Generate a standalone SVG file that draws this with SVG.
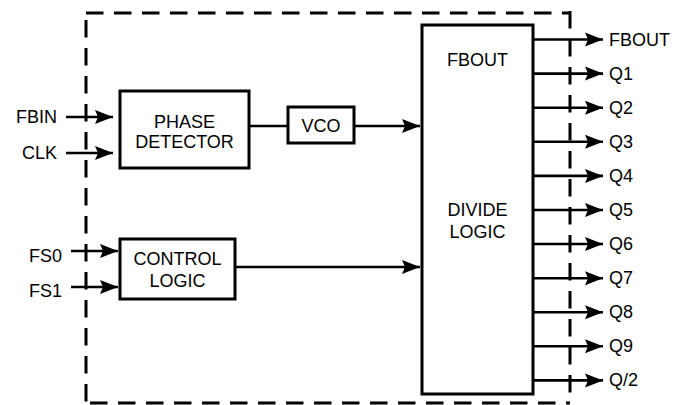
<svg xmlns="http://www.w3.org/2000/svg" width="688" height="405" viewBox="0 0 688 405">
<style>
text{font-family:"Liberation Sans",Arial,sans-serif;font-size:18px;fill:#000}
.box{fill:#fff;stroke:#000;stroke-width:3}
.w{stroke:#000;stroke-width:2.6;fill:none}
.a{marker-end:url(#ah)}
.mid{text-anchor:middle}
.end{text-anchor:end}
.border{fill:none;stroke:#000;stroke-width:3;stroke-dasharray:17.5 10.5}
</style>
<defs>
<marker id="ah" markerUnits="userSpaceOnUse" markerWidth="20" markerHeight="16" refX="18" refY="7" orient="auto" viewBox="0 0 20 14">
<path d="M0,0 L18,7 L0,14 L3,7 z" fill="#000"/>
</marker>
</defs>
<g id="border">
<path class="border" d="M86,13 H570"/>
<path class="border" d="M570,11 V403"/>
<path class="border" d="M86,20 V403"/>
<path class="border" d="M86,403 H570" style="stroke-dashoffset:-4"/>
</g>
<g id="connectors">
<line class="w a" x1="66" y1="117" x2="113" y2="117"/>
<line class="w a" x1="66" y1="153" x2="113" y2="153"/>
<line class="w a" x1="71" y1="251" x2="118" y2="251"/>
<line class="w a" x1="71" y1="287" x2="118" y2="287"/>
<line class="w" x1="249" y1="126" x2="288" y2="126"/>
<line class="w a" x1="354" y1="126" x2="420" y2="126"/>
<line class="w a" x1="235" y1="267" x2="420" y2="267"/>
<line class="w a" x1="533" y1="39.5" x2="603" y2="39.5"/>
<line class="w a" x1="533" y1="73.6" x2="603" y2="73.6"/>
<line class="w a" x1="533" y1="107.7" x2="603" y2="107.7"/>
<line class="w a" x1="533" y1="141.8" x2="603" y2="141.8"/>
<line class="w a" x1="533" y1="175.9" x2="603" y2="175.9"/>
<line class="w a" x1="533" y1="210" x2="603" y2="210"/>
<line class="w a" x1="533" y1="244" x2="603" y2="244"/>
<line class="w a" x1="533" y1="278.2" x2="603" y2="278.2"/>
<line class="w a" x1="533" y1="312.3" x2="603" y2="312.3"/>
<line class="w a" x1="533" y1="346.3" x2="603" y2="346.3"/>
<line class="w a" x1="533" y1="380.4" x2="603" y2="380.4"/>
</g>
<g id="phase-detector">
<rect class="box" x="120" y="91" width="129" height="77"/>
<text class="mid" x="184.5" y="128">PHASE</text>
<text class="mid" x="184.5" y="148">DETECTOR</text>
</g>
<g id="vco">
<rect class="box" x="288" y="107" width="66" height="36"/>
<text class="mid" x="321" y="132">VCO</text>
</g>
<g id="control-logic">
<rect class="box" x="120" y="239" width="115" height="60"/>
<text class="mid" x="177.5" y="265">CONTROL</text>
<text class="mid" x="177.5" y="287">LOGIC</text>
</g>
<g id="divide-logic">
<rect class="box" x="422" y="25" width="111" height="369"/>
<text class="mid" x="477.5" y="66">FBOUT</text>
<text class="mid" x="477.5" y="216">DIVIDE</text>
<text class="mid" x="477.5" y="238">LOGIC</text>
</g>
<g id="input-labels">
<text class="end" x="57" y="123">FBIN</text>
<text class="end" x="57" y="159">CLK</text>
<text class="end" x="62" y="262">FS0</text>
<text class="end" x="62" y="297">FS1</text>
</g>
<g id="output-labels">
<text x="609" y="46">FBOUT</text>
<text x="609" y="80">Q1</text>
<text x="609" y="114">Q2</text>
<text x="609" y="148">Q3</text>
<text x="609" y="182">Q4</text>
<text x="609" y="216">Q5</text>
<text x="609" y="250">Q6</text>
<text x="609" y="284">Q7</text>
<text x="609" y="318">Q8</text>
<text x="609" y="352">Q9</text>
<text x="609" y="386">Q/2</text>
</g>
</svg>
